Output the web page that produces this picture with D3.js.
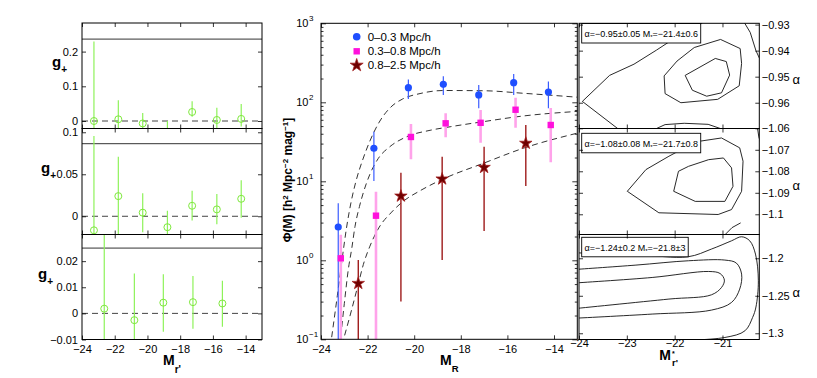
<!DOCTYPE html>
<html>
<head>
<meta charset="utf-8">
<script src="https://cdn.jsdelivr.net/npm/d3@7"></script>
<style>
body { margin: 0; background: #fff; }
svg { font-family: "Liberation Sans", Arial, sans-serif; }
</style>
</head>
<body>
<div id="chart"></div>
<script>
// ---------- left column: g+ vs M_r' ----------
var gMagA = [-23.27, -21.78, -20.29, -18.78, -17.27, -15.76, -14.27];
var gMagB = [-22.64, -20.80, -19.03, -17.22, -15.42];

var g1Val = [0.0, 0.005, -0.007, -0.04, 0.026, 0.003, 0.006];
var g1Hi = [0.229, 0.06, 0.023, 0.0, 0.057, 0.038, 0.049];
var g1Lo = [-0.2, -0.05, -0.04, -0.1, 0.012, -0.03, -0.016];
var g1Ticks = [0, 0.1, 0.2];
var g1Domain = [-0.0216, 0.2824];
var g1Edge = 0.236;

var g2Val = [-0.0167, 0.024, 0.0043, -0.013, 0.0125, 0.0082, 0.0208];
var g2Hi = [0.0956, 0.071, 0.0273, 0.0067, 0.0304, 0.0265, 0.043];
var g2Lo = [-0.1, -0.03, -0.019, -0.04, -0.005, -0.0096, -0.0017];
var g2Ticks = [0, 0.05, 0.1];
var g2Domain = [-0.0217, 0.1045];
var g2Edge = 0.0864;

var g3Val = [0.0018, -0.0026, 0.0041, 0.0043, 0.0038];
var g3Hi = [0.04, 0.0153, 0.015, 0.0143, 0.0125];
var g3Lo = [-0.02, -0.02, -0.007, -0.0059, -0.0051];
var g3Ticks = [-0.01, 0, 0.01, 0.02];
var g3Domain = [-0.01, 0.0302];
var g3Edge = 0.025;

var magTicks = [-24, -22, -20, -18, -16, -14];

// ---------- middle: luminosity function ----------
var seriesNames = ["0\u20130.3 Mpc/h", "0.3\u20130.8 Mpc/h", "0.8\u20132.5 Mpc/h"];

var blueMag = [-23.26, -21.73, -20.25, -18.75, -17.23, -15.73, -14.24];
var blueVal = [2.64, 26.2, 153, 169, 124, 177, 135];
var blueHi = [5.27, 42.5, 195, 213, 166, 228, 184];
var blueLo = [0.05, 10.1, 110, 124, 84, 124, 84];

var pinkMag = [-23.15, -21.64, -20.14, -18.65, -17.15, -15.65, -14.14];
var pinkVal = [1.06, 3.67, 36.4, 54.2, 55, 80.5, 51.6];
var pinkHi = [2.1, 7.4, 53, 72.6, 80, 114, 85];
var pinkLo = [0.05, 0.05, 19, 36, 30.8, 47.6, 17.4];

var redMag = [-22.4, -20.57, -18.8, -17.0, -15.21];
var redVal = [0.51, 6.5, 10.7, 15, 30.3];
var redHi = [1.01, 12.8, 20.5, 27.4, 51.6];
var redLo = [0.05, 0.30, 1.01, 2.35, 8.7];

// dashed fits
var blueFitMag = [-23.6, -23.3, -23.1, -22.9, -22.7, -22.5, -22.2, -21.9, -21.5, -21.0, -20.5, -19.75, -18.75, -17.0, -15.3, -13.0];
var blueFitVal = [0.08, 0.355, 1.0, 2.63, 5.62, 10, 19.1, 32.4, 56.2, 87.1, 110, 129, 141, 140, 130, 116];
var pinkFitMag = [-23.2, -23.0, -22.83, -22.68, -22.54, -22.35, -22.18, -21.9, -21.54, -21.04, -20.32, -19.32, -18.46, -17.03, -15.32, -13.0];
var pinkFitVal = [0.08, 0.282, 0.759, 1.41, 2.69, 4.79, 7.24, 12.3, 19.5, 27.5, 36.7, 44.2, 49, 56.9, 67.1, 76.7];
var redFitMag = [-23.1, -22.68, -22.4, -22.18, -21.9, -21.5, -21.0, -20.5, -19.75, -18.82, -17.03, -15.32, -13.0];
var redFitVal = [0.085, 0.24, 0.5, 0.89, 1.51, 2.63, 3.98, 5.5, 7.59, 10.5, 16.9, 26.2, 40.7];

var phiTicks = [0.1, 1, 10, 100, 1000];
var phiExp = ["\u22121", "0", "1", "2", "3"];

// ---------- right column: alpha vs M* contours ----------
var fitText = [
    ["\u03b1=\u22120.95\u00b10.05  M", "=\u221221.4\u00b10.6"],
    ["\u03b1=\u22121.08\u00b10.08  M", "=\u221221.7\u00b10.8"],
    ["\u03b1=\u22121.24\u00b10.2  M", "=\u221221.8\u00b13"]
];
var starTicks = [-24, -23, -22, -21];
var a1Ticks = [-0.96, -0.95, -0.94, -0.93];
var a2Ticks = [-1.1, -1.09, -1.08, -1.07, -1.06];
var a3Ticks = [-1.3, -1.25, -1.2];
var a1Domain = [-0.9699, -0.9295];
var a2Domain = [-1.1094, -1.0601];
var a3Domain = [-1.3083, -1.1683];

var c1Outer = [[-21.40, -0.9290], [-21.68, -0.9333], [-21.98, -0.9350], [-22.38, -0.9398], [-22.85, -0.9452], [-23.36, -0.9495], [-23.93, -0.9595], [-23.15, -0.9705]];
var c1Mid = [[-22.22, -0.9497], [-22.20, -0.9565], [-21.87, -0.9600], [-21.10, -0.9587], [-20.65, -0.9535], [-20.60, -0.9449], [-20.63, -0.9392], [-21.04, -0.9357], [-21.59, -0.9388], [-21.95, -0.9440]];
var c1In = [[-21.78, -0.9495], [-21.63, -0.9552], [-21.33, -0.9575], [-21.02, -0.9562], [-20.85, -0.9494], [-20.92, -0.9442], [-21.15, -0.9430]];
var c1Edge = [[-20.55, -0.9290], [-20.42, -0.9330], [-20.30, -0.9400], [-20.20, -0.9440]];
var c1Low = [[-22.45, -0.9705], [-22.2, -0.9684], [-21.8, -0.9679], [-21.3, -0.9683], [-20.95, -0.9705]];

var c2Out = [[-22.99, -1.0893], [-22.60, -1.0792], [-22.12, -1.0730], [-21.70, -1.0680], [-21.47, -1.0660], [-21.02, -1.0645], [-20.64, -1.0691], [-20.57, -1.0753], [-20.60, -1.0893], [-20.81, -1.0978], [-21.09, -1.1001], [-22.33, -1.0993]];
var c2In = [[-21.92, -1.0800], [-22.02, -1.0893], [-21.57, -1.0940], [-20.95, -1.0940], [-20.78, -1.0870], [-20.81, -1.0784], [-20.98, -1.0738], [-21.29, -1.0746], [-21.71, -1.0777]];
var c2Edge = [[-20.27, -1.0595], [-20.24, -1.0640], [-20.20, -1.0670]];
var c2Low = [[-20.97, -1.1100], [-20.80, -1.1062], [-20.62, -1.1040]];

var c3Out = [[-24.1, -1.1927], [-22.80, -1.1950], [-21.72, -1.1980], [-21.23, -1.1877], [-20.81, -1.1767], [-20.60, -1.1713], [-20.43, -1.1767], [-20.31, -1.1944], [-20.25, -1.2300], [-20.30, -1.2650], [-20.37, -1.2789], [-20.53, -1.2967], [-20.95, -1.3056], [-22.06, -1.3100]];
var c3Mid = [[-24.1, -1.2150], [-22.81, -1.2091], [-21.71, -1.2033], [-20.95, -1.2024], [-20.71, -1.2064], [-20.60, -1.2211], [-20.64, -1.2411], [-20.81, -1.2589], [-21.23, -1.2691], [-22.47, -1.2744], [-24.1, -1.2800]];
var c3In = [[-24.1, -1.2330], [-22.47, -1.2256], [-21.29, -1.2176], [-21.05, -1.2203], [-20.96, -1.2291], [-21.02, -1.2389], [-21.23, -1.2487], [-22.12, -1.2544], [-24.1, -1.2672]];

function main(){
    var svg = d3.select("#chart")
        .append("svg")
            .attr("width", 817)
            .attr("height", 378);
    buildLeft(svg);
    buildMiddle(svg);
    buildRight(svg);
}

function minus(d){
    return String(d).replace("-", "\u2212");
}

function styleAxis(g){
    g.attr("font-size", 11).attr("font-family", null);
    g.select(".domain").remove();
    g.selectAll(".tick line").attr("stroke", "#000").attr("stroke-width", 0.8);
    g.selectAll(".tick text").attr("fill", "#000");
}

function frame(svg, x0, y0, x1, y1){
    svg.append("rect")
        .attr("x", x0).attr("y", y0)
        .attr("width", x1 - x0).attr("height", y1 - y0)
        .attr("fill", "none").attr("stroke", "#000").attr("stroke-width", 1);
}

function clip(svg, id, x0, y0, x1, y1){
    svg.append("clipPath").attr("id", id)
        .append("rect")
            .attr("x", x0).attr("y", y0)
            .attr("width", x1 - x0).attr("height", y1 - y0);
}

// three stacked g+ panels
function buildLeft(svg){
    var x0 = 82, x1 = 262;
    var x = d3.scaleLinear().domain([-24, -13]).range([x0, x1]);
    var panels = [
        {mag: gMagA, val: g1Val, lo: g1Lo, hi: g1Hi, dom: g1Domain, ticks: g1Ticks, edge: g1Edge, top: 23, bot: 128.5, lx: 52, ly: 67},
        {mag: gMagA, val: g2Val, lo: g2Lo, hi: g2Hi, dom: g2Domain, ticks: g2Ticks, edge: g2Edge, top: 128.5, bot: 234.5, lx: 41, ly: 173},
        {mag: gMagB, val: g3Val, lo: g3Lo, hi: g3Hi, dom: g3Domain, ticks: g3Ticks, edge: g3Edge, top: 234.5, bot: 339.5, lx: 38, ly: 279}
    ];

    panels.forEach(function(p, k){
        var y = d3.scaleLinear().domain(p.dom).range([p.bot, p.top]);
        clip(svg, "clipL" + k, x0, p.top, x1, p.bot);
        var g = svg.append("g").attr("clip-path", "url(#clipL" + k + ")");

        g.append("line")
            .attr("x1", x0).attr("x2", x1)
            .attr("y1", y(0)).attr("y2", y(0))
            .attr("stroke", "#444").attr("stroke-width", 1)
            .attr("stroke-dasharray", "6,4");

        g.append("line")
            .attr("x1", x0).attr("x2", x1)
            .attr("y1", y(p.edge)).attr("y2", y(p.edge))
            .attr("stroke", "#333").attr("stroke-width", 1);

        for (var i = 0; i < p.mag.length; i++){
            g.append("line")
                .attr("x1", x(p.mag[i])).attr("x2", x(p.mag[i]))
                .attr("y1", y(p.lo[i])).attr("y2", y(p.hi[i]))
                .attr("stroke", "#8ef25a").attr("stroke-width", 1.2);
            g.append("circle")
                .attr("cx", x(p.mag[i])).attr("cy", y(p.val[i]))
                .attr("r", 3.5)
                .attr("fill", "none").attr("stroke", "#7ee83c").attr("stroke-width", 1);
        }

        svg.append("g")
            .attr("transform", "translate(" + x0 + ",0)")
            .call(d3.axisLeft(y).tickValues(p.ticks).tickSizeInner(-4).tickSizeOuter(0).tickPadding(4).tickFormat(minus))
            .call(styleAxis);
        svg.append("g")
            .attr("transform", "translate(" + x1 + ",0)")
            .call(d3.axisRight(y).tickValues(p.ticks).tickSizeInner(-4).tickSizeOuter(0).tickFormat(""))
            .call(styleAxis);
        svg.append("g")
            .attr("transform", "translate(0," + p.top + ")")
            .call(d3.axisTop(x).tickValues(magTicks).tickSizeInner(-4).tickSizeOuter(0).tickFormat(""))
            .call(styleAxis);
        var bottom = d3.axisBottom(x).tickValues(magTicks).tickSizeInner(-4).tickSizeOuter(0).tickPadding(5.7);
        if (k < 2) bottom.tickFormat(""); else bottom.tickFormat(minus);
        svg.append("g")
            .attr("transform", "translate(0," + p.bot + ")")
            .call(bottom)
            .call(styleAxis);

        frame(svg, x0, p.top, x1, p.bot);

        var lab = svg.append("text")
            .attr("x", p.lx).attr("y", p.ly)
            .attr("font-size", 15).attr("font-weight", "bold")
            .text("g");
        lab.append("tspan").attr("font-size", 10).attr("dy", 6).text("+");
    });

    var xl = svg.append("text")
        .attr("x", 163).attr("y", 365)
        .attr("font-size", 14).attr("font-weight", "bold")
        .text("M");
    xl.append("tspan").attr("font-size", 10).attr("dy", 8).text("r'");
}

// luminosity function panel
function buildMiddle(svg){
    var x0 = 321, x1 = 577.3, top = 23.3, bot = 339.3;
    var x = d3.scaleLinear().domain([-24, -13]).range([x0, x1]);
    var y = d3.scaleLog().domain([0.1, 1000]).range([bot, top]);

    clip(svg, "clipM", x0, top, x1, bot);
    var g = svg.append("g").attr("clip-path", "url(#clipM)");

    var fits = [[blueFitMag, blueFitVal], [pinkFitMag, pinkFitVal], [redFitMag, redFitVal]];
    var line = d3.line()
        .x(function(d){ return x(d[0]); })
        .y(function(d){ return y(d[1]); })
        .curve(d3.curveMonotoneX);
    fits.forEach(function(f){
        var pts = f[0].map(function(m, i){ return [m, f[1][i]]; });
        g.append("path")
            .attr("d", line(pts))
            .attr("fill", "none")
            .attr("stroke", "#333").attr("stroke-width", 1)
            .attr("stroke-dasharray", "6,4");
    });

    var star = d3.symbol().type(d3.symbolStar).size(48);

    // blue circles
    for (var i = 0; i < blueMag.length; i++){
        g.append("line")
            .attr("x1", x(blueMag[i])).attr("x2", x(blueMag[i]))
            .attr("y1", y(blueLo[i])).attr("y2", y(blueHi[i]))
            .attr("stroke", "#3b5cff").attr("stroke-width", 1.2);
        g.append("circle")
            .attr("cx", x(blueMag[i])).attr("cy", y(blueVal[i]))
            .attr("r", 3.6).attr("fill", "#1f4fff");
    }
    // pink squares
    for (var i = 0; i < pinkMag.length; i++){
        g.append("line")
            .attr("x1", x(pinkMag[i])).attr("x2", x(pinkMag[i]))
            .attr("y1", y(pinkLo[i])).attr("y2", y(pinkHi[i]))
            .attr("stroke", "#ffa3ea").attr("stroke-width", 2.6);
        g.append("rect")
            .attr("x", x(pinkMag[i]) - 3.2).attr("y", y(pinkVal[i]) - 3.2)
            .attr("width", 6.4).attr("height", 6.4)
            .attr("fill", "#ff10dc");
    }
    // red stars
    for (var i = 0; i < redMag.length; i++){
        g.append("line")
            .attr("x1", x(redMag[i])).attr("x2", x(redMag[i]))
            .attr("y1", y(redLo[i])).attr("y2", y(redHi[i]))
            .attr("stroke", "#9e1a1a").attr("stroke-width", 1.4);
        g.append("path")
            .attr("d", star())
            .attr("transform", "translate(" + x(redMag[i]) + "," + y(redVal[i]) + ")")
            .attr("fill", "#6e0000").attr("stroke", "#a52020").attr("stroke-width", 0.8);
    }

    // legend
    var ly = [36.7, 51.3, 65.3];
    svg.append("circle").attr("cx", 356.7).attr("cy", ly[0]).attr("r", 3.8).attr("fill", "#1f4fff");
    svg.append("rect").attr("x", 353.5).attr("y", ly[1] - 3.2).attr("width", 6.4).attr("height", 6.4).attr("fill", "#ff10dc");
    svg.append("path").attr("d", d3.symbol().type(d3.symbolStar).size(52)())
        .attr("transform", "translate(356.7," + ly[2] + ")")
        .attr("fill", "#6e0000").attr("stroke", "#a52020").attr("stroke-width", 0.8);
    seriesNames.forEach(function(s, i){
        svg.append("text")
            .attr("x", 367.7).attr("y", ly[i] + 4)
            .attr("font-size", 11.5)
            .text(s);
    });

    // axes
    var minor = y.ticks().filter(function(d){ return phiTicks.indexOf(d) < 0; });
    svg.append("g")
        .attr("transform", "translate(" + x0 + ",0)")
        .call(d3.axisLeft(y).tickValues(minor).tickSizeInner(-2.5).tickSizeOuter(0).tickFormat(""))
        .call(styleAxis);
    svg.append("g")
        .attr("transform", "translate(" + x1 + ",0)")
        .call(d3.axisRight(y).tickValues(minor).tickSizeInner(-2.5).tickSizeOuter(0).tickFormat(""))
        .call(styleAxis);
    svg.append("g")
        .attr("transform", "translate(" + x1 + ",0)")
        .call(d3.axisRight(y).tickValues(phiTicks).tickSizeInner(-5).tickSizeOuter(0).tickFormat(""))
        .call(styleAxis);
    svg.append("g")
        .attr("transform", "translate(" + x0 + ",0)")
        .call(d3.axisLeft(y).tickValues(phiTicks).tickSizeInner(-5).tickSizeOuter(0).tickFormat(""))
        .call(styleAxis);
    phiTicks.forEach(function(t, i){
        svg.append("text")
            .attr("x", 308.5).attr("y", y(t) + 4)
            .attr("font-size", 11).attr("text-anchor", "end")
            .text("10");
        svg.append("text")
            .attr("x", 309).attr("y", y(t) - 2)
            .attr("font-size", 8)
            .text(phiExp[i]);
    });

    svg.append("g")
        .attr("transform", "translate(0," + top + ")")
        .call(d3.axisTop(x).tickValues(magTicks).tickSizeInner(-4).tickSizeOuter(0).tickFormat(""))
        .call(styleAxis);
    svg.append("g")
        .attr("transform", "translate(0," + bot + ")")
        .call(d3.axisBottom(x).tickValues(magTicks).tickSizeInner(-4).tickSizeOuter(0).tickPadding(6).tickFormat(minus))
        .call(styleAxis);

    frame(svg, x0, top, x1, bot);

    var xl = svg.append("text")
        .attr("x", 440).attr("y", 365)
        .attr("font-size", 14).attr("font-weight", "bold")
        .text("M");
    xl.append("tspan").attr("font-size", 9.5).attr("dy", 7).text("R");

    var yl = svg.append("text")
        .attr("transform", "translate(292,180)rotate(-90)")
        .attr("text-anchor", "middle")
        .attr("font-size", 12).attr("font-weight", "bold")
        .text("\u03a6(M) [h");
    yl.append("tspan").attr("font-size", 8).attr("dy", -4).text("2");
    yl.append("tspan").attr("dy", 4).text(" Mpc");
    yl.append("tspan").attr("font-size", 8).attr("dy", -4).text("\u22122");
    yl.append("tspan").attr("dy", 4).text(" mag");
    yl.append("tspan").attr("font-size", 8).attr("dy", -4).text("\u22121");
    yl.append("tspan").attr("dy", 4).text("]");
}

// alpha / M* confidence contours
function buildRight(svg){
    var x0 = 579, x1 = 759.3;
    var x = d3.scaleLinear().domain([-24, -20.23]).range([x0, x1]);
    var panels = [
        {dom: a1Domain, ticks: a1Ticks, top: 23.3, bot: 128.5, open: [c1Outer, c1Edge, c1Low], closed: [c1Mid, c1In], smooth: false, boxY: 23.5, alphaY: 84},
        {dom: a2Domain, ticks: a2Ticks, top: 128.5, bot: 234.5, open: [c2Edge, c2Low], closed: [c2Out, c2In], smooth: false, boxY: 133.3, alphaY: 190},
        {dom: a3Domain, ticks: a3Ticks, top: 234.5, bot: 339.5, open: [c3Out, c3Mid, c3In], closed: [], smooth: true, boxY: 237.3, alphaY: 297}
    ];

    panels.forEach(function(p, k){
        var y = d3.scaleLinear().domain(p.dom).range([p.bot, p.top]);
        clip(svg, "clipR" + k, x0, p.top, x1, p.bot);
        var g = svg.append("g").attr("clip-path", "url(#clipR" + k + ")");

        var open = d3.line()
            .x(function(d){ return x(d[0]); })
            .y(function(d){ return y(d[1]); })
            .curve(p.smooth ? d3.curveCatmullRom : d3.curveLinear);
        var closed = d3.line()
            .x(function(d){ return x(d[0]); })
            .y(function(d){ return y(d[1]); })
            .curve(d3.curveLinearClosed);

        p.open.forEach(function(c){
            g.append("path").attr("d", open(c))
                .attr("fill", "none").attr("stroke", "#111").attr("stroke-width", 0.9);
        });
        p.closed.forEach(function(c){
            g.append("path").attr("d", closed(c))
                .attr("fill", "none").attr("stroke", "#111").attr("stroke-width", 0.9);
        });

        // fit box
        var t = svg.append("text")
            .attr("x", 584.5).attr("y", p.boxY + 13.3)
            .attr("font-size", 9)
            .text(fitText[k][0]);
        t.append("tspan").attr("font-size", 6).attr("dy", 2).text("*");
        t.append("tspan").attr("dy", -2).text(fitText[k][1]);
        var w = t.node().getComputedTextLength();
        svg.insert("rect", function(){ return t.node(); })
            .attr("x", 581.7).attr("y", p.boxY)
            .attr("width", w + 5.5).attr("height", 19.5)
            .attr("fill", "#fff").attr("stroke", "#000").attr("stroke-width", 0.9);

        svg.append("g")
            .attr("transform", "translate(" + x1 + ",0)")
            .call(d3.axisRight(y).tickValues(p.ticks).tickSizeInner(-4).tickSizeOuter(0).tickPadding(2.5).tickFormat(minus))
            .call(styleAxis);
        svg.append("g")
            .attr("transform", "translate(" + x0 + ",0)")
            .call(d3.axisLeft(y).tickValues(p.ticks).tickSizeInner(-4).tickSizeOuter(0).tickFormat(""))
            .call(styleAxis);
        svg.append("g")
            .attr("transform", "translate(0," + p.top + ")")
            .call(d3.axisTop(x).tickValues(starTicks).tickSizeInner(-4).tickSizeOuter(0).tickFormat(""))
            .call(styleAxis);
        var bottom = d3.axisBottom(x).tickValues(starTicks).tickSizeInner(-4).tickSizeOuter(0).tickPadding(0);
        if (k < 2) bottom.tickFormat(""); else bottom.tickFormat(minus);
        svg.append("g")
            .attr("transform", "translate(0," + p.bot + ")")
            .call(bottom)
            .call(styleAxis);

        frame(svg, x0, p.top, x1, p.bot);

        svg.append("text")
            .attr("x", 792.5).attr("y", p.alphaY)
            .attr("font-size", 13)
            .text("\u03b1");
    });

    svg.append("text")
        .attr("x", 659.3).attr("y", 359.5)
        .attr("font-size", 14).attr("font-weight", "bold")
        .text("M");
    svg.append("text")
        .attr("x", 672).attr("y", 356)
        .attr("font-size", 7).attr("font-weight", "bold")
        .text("*");
    svg.append("text")
        .attr("x", 672).attr("y", 366)
        .attr("font-size", 9.5).attr("font-weight", "bold")
        .text("r'");
}

main();
</script>
</body>
</html>
